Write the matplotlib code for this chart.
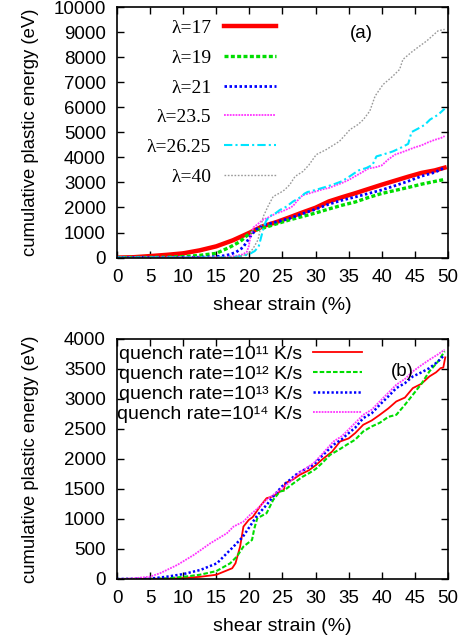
import matplotlib
matplotlib.use("Agg")
import matplotlib.pyplot as plt

plt.rcParams["font.family"] = ["Liberation Sans", "DejaVu Sans"]

# ---- panel (a): different lambda ----
lam17_x = [0, 2.5, 5, 7.5, 10, 12.5, 15, 17.5, 20, 22, 24, 26, 28, 30, 32, 34, 36, 38, 40, 42, 44, 46, 48, 49.5]
lam17_y = [0, 15, 60, 110, 170, 290, 450, 690, 990, 1250, 1410, 1600, 1800, 1990, 2240, 2410, 2570, 2740, 2910, 3070, 3230, 3380, 3480, 3590]

lam19_x = [0, 5, 7.5, 10, 12.5, 15, 17, 18.6, 20, 21, 22, 24, 26, 28, 30, 32, 34, 36, 38, 40, 42, 44, 46, 48, 49.5]
lam19_y = [0, 5, 15, 40, 90, 170, 410, 640, 960, 1100, 1170, 1340, 1500, 1640, 1780, 1940, 2090, 2220, 2400, 2560, 2680, 2800, 2930, 3040, 3120]

lam21_x = [0, 10, 12.5, 15, 16, 17, 18, 19, 19.6, 20, 21, 22, 24, 26, 28, 30, 32, 34, 36, 38, 40, 42, 44, 46, 48, 49.5]
lam21_y = [0, 5, 15, 40, 70, 120, 220, 400, 620, 800, 1120, 1290, 1420, 1560, 1750, 1930, 2130, 2290, 2420, 2560, 2700, 2870, 3050, 3250, 3400, 3590]

lam235_x = [0, 15, 17, 18, 19, 19.6, 19.9, 20.2, 20.6, 21, 22, 23, 24, 25, 26, 26.6, 27.1, 27.6, 28.1, 29, 30, 31, 32, 33,
            34, 35, 36, 37, 38, 39, 40, 41, 42, 43, 44, 45, 46, 47, 48, 49, 49.5]
lam235_y = [0, 10, 40, 70, 130, 220, 450, 900, 1200, 1280, 1500, 1620, 1760, 1850, 1970, 2060, 2230, 2370, 2500, 2560, 2640,
            2720, 2780, 2880, 2980, 3100, 3250, 3400, 3560, 3600, 3680, 3920, 4110, 4200, 4300, 4400, 4480, 4600, 4700, 4780, 4850]

lam2625_x = [0, 16, 18, 19, 20, 20.8, 21.4, 21.8, 22.2, 22.5, 23, 24, 24.6, 25.5, 26.6, 27.9, 28.3, 28.8, 29.2, 30.5, 32, 33,
             34, 35.2, 36.5, 37.7, 38.6, 39.2, 40, 41, 41.7, 43, 44, 44.5, 45.5, 46.5, 47.3, 48.5, 49.5]
lam2625_y = [0, 5, 30, 70, 140, 260, 440, 840, 1240, 1450, 1640, 1780, 1900, 2020, 2240, 2440, 2550, 2620, 2640, 2740, 2860,
             2950, 3050, 3250, 3480, 3580, 3700, 4040, 4100, 4180, 4240, 4400, 4540, 5010, 5150, 5300, 5510, 5700, 5940]

lam40_x = [0, 16, 18, 19, 20, 20.6, 21.3, 21.7, 22.1, 22.8, 23.6, 24.6, 25.3, 26.1, 26.9, 28.1, 29, 30.1, 31.6, 33.6, 34.5,
           35.2, 36.4, 37.2, 38.2, 39, 40.2, 41.5, 42.7, 43.2, 44.5, 45.5, 46.8, 48.5, 49.5]
lam40_y = [0, 5, 30, 80, 170, 380, 710, 1200, 1640, 2040, 2440, 2580, 2700, 2910, 3240, 3440, 3700, 4110, 4310, 4640, 4900,
           5110, 5310, 5500, 5850, 6450, 6910, 7200, 7510, 7910, 8200, 8400, 8650, 9050, 9110]

lam_labels = ["λ=17", "λ=19", "λ=21", "λ=23.5", "λ=26.25", "λ=40"]

# ---- panel (b): different quench rates ----
q11_x = [0, 7.5, 10, 12.5, 15, 17.4, 17.9, 18.6, 19.1, 19.9, 20.5, 21.6, 22.2, 22.6, 23.5, 24.6, 25.2, 25.4, 26.5, 27.6,
         29, 30.1, 31, 32.5, 33.7, 35, 36, 37.2, 38.5, 39.7, 41, 42.2, 43.5, 44.7, 46, 47.2, 48.2, 48.9, 49.3, 49.6]
q11_y = [0, 5, 15, 35, 70, 178, 261, 539, 872, 983, 1030, 1206, 1290, 1345, 1372, 1456, 1480, 1595, 1650, 1733, 1810, 1900,
         1990, 2120, 2289, 2340, 2430, 2567, 2640, 2733, 2840, 2956, 3020, 3178, 3250, 3372, 3440, 3511, 3520, 3690]

q12_x = [0, 5, 7.5, 10, 12.5, 15, 17.1, 18.1, 19.1, 20.4, 20.7, 20.9, 21.2, 22.6, 23.6, 24.6, 25.2, 26.5, 28, 29, 30, 31,
         32.2, 33.5, 34.7, 36, 37.2, 38.5, 39.7, 41, 42.2, 43.5, 44.7, 46, 47.2, 48.5, 49.5]
q12_y = [0, 0, 10, 35, 70, 130, 261, 372, 539, 650, 817, 900, 1011, 1095, 1317, 1456, 1470, 1580, 1700, 1760, 1830, 1930,
         2067, 2150, 2234, 2320, 2456, 2540, 2600, 2700, 2733, 2900, 3067, 3250, 3456, 3620, 3790]

q13_x = [0, 5, 7.6, 10.1, 12.6, 15.1, 17.6, 19, 20.1, 21.2, 22.6, 23.8, 24.9, 26, 27.3, 28.5, 29.7, 31, 32.7, 34, 34.7, 36,
         37.2, 38.5, 39.7, 41, 42.2, 43.5, 44.7, 46, 47.2, 48.5, 49.5]
q13_y = [0, 5, 39, 83, 150, 261, 539, 700, 880, 1060, 1233, 1400, 1539, 1640, 1760, 1830, 1900, 2050, 2234, 2330, 2400, 2520,
         2678, 2760, 2900, 3040, 3178, 3260, 3372, 3440, 3511, 3620, 3733]

q14_x = [0, 2.5, 5, 6.5, 9.1, 11.6, 14.1, 16.6, 17.6, 19.1, 20.1, 21.3, 22.6, 23.6, 24.6, 26, 27.3, 28.5, 29.7, 31, 32.7,
         34, 34.7, 36, 37.2, 38.5, 39.7, 41, 42.2, 43.5, 44.7, 46, 47.2, 48.5, 49.5]
q14_y = [0, 10, 39, 95, 233, 400, 594, 761, 872, 955, 1067, 1180, 1317, 1400, 1483, 1600, 1750, 1840, 1928, 2080, 2289, 2380,
         2456, 2600, 2733, 2820, 2956, 3100, 3234, 3330, 3456, 3560, 3650, 3740, 3817]

q_labels = ["quench rate=10¹¹ K/s", "quench rate=10¹² K/s",
            "quench rate=10¹³ K/s", "quench rate=10¹⁴ K/s"]

strain_ticks = list(range(0, 51, 5))
energy_ticks_a = list(range(0, 10001, 1000))
energy_ticks_b = list(range(0, 4001, 500))

FS_TICK = 13.5
FS_XLABEL = 14
FS_YLABEL = 13.3

fig = plt.figure(figsize=(4.7, 6.44), dpi=100)
ax1 = fig.add_axes([0.249, 0.600, 0.704, 0.389])
ax2 = fig.add_axes([0.249, 0.101, 0.704, 0.373])

styles_a = [
    dict(color="#ff0000", lw=3.2, ls="-"),
    dict(color="#00dd00", lw=2.4, ls=(0, (1.2, 0.7))),
    dict(color="#0000ff", lw=2.0, ls=(0, (0.9, 0.9))),
    dict(color="#ff33ff", lw=1.3, ls=(0, (1.0, 0.6))),
    dict(color="#00e5ff", lw=1.5, ls=(0, (4, 1.5, 1, 1.5))),
    dict(color="#999999", lw=1.0, ls=(0, (1.2, 1.2))),
]
series_a = [(lam17_x, lam17_y), (lam19_x, lam19_y), (lam21_x, lam21_y),
            (lam235_x, lam235_y), (lam2625_x, lam2625_y), (lam40_x, lam40_y)]
for (xs, ys), st, lab in zip(series_a, styles_a, lam_labels):
    ax1.plot(xs, ys, label=lab, **st)

styles_b = [
    dict(color="#ff0000", lw=1.3, ls="-"),
    dict(color="#00dd00", lw=1.5, ls=(0, (2.2, 1.0))),
    dict(color="#0000ff", lw=1.8, ls=(0, (0.9, 0.9))),
    dict(color="#ff33ff", lw=1.3, ls=(0, (1.0, 0.6))),
]
series_b = [(q11_x, q11_y), (q12_x, q12_y), (q13_x, q13_y), (q14_x, q14_y)]
for (xs, ys), st, lab in zip(series_b, styles_b, q_labels):
    ax2.plot(xs, ys, label=lab, **st)

for ax, yt in ((ax1, energy_ticks_a), (ax2, energy_ticks_b)):
    ax.set_xlim(0, 50)
    ax.set_ylim(yt[0], yt[-1])
    ax.set_xticks(strain_ticks)
    ax.set_yticks(yt)
    ax.tick_params(direction="in", top=True, right=True, length=5, width=1,
                   labelsize=FS_TICK, pad=8)
    for sp in ax.spines.values():
        sp.set_linewidth(1.2)
    ax.set_xlabel("shear strain (%)", fontsize=FS_XLABEL, labelpad=8)
    ax.set_ylabel("cumulative plastic energy (eV)", fontsize=FS_YLABEL)
    ax.yaxis.set_label_coords(-0.235, 0.5)

leg1 = ax1.legend(loc="upper right", bbox_to_anchor=(0.48, 0.95), frameon=False,
                  markerfirst=False, handlelength=2.65, handletextpad=0.67,
                  labelspacing=0.62, borderaxespad=0.0, borderpad=0.0,
                  prop={"family": "Liberation Serif", "size": 14})
ax1.text(0.737, 0.896, "(a)", transform=ax1.transAxes, fontsize=FS_TICK,
         ha="center", va="center")

leg2 = ax2.legend(loc="upper left", bbox_to_anchor=(0.0, 0.974), frameon=False,
                  markerfirst=False, handlelength=2.55, handletextpad=0.55,
                  labelspacing=0.13, borderaxespad=0.0, borderpad=0.0,
                  prop={"family": ["Liberation Sans", "DejaVu Sans"], "size": 14})
ax2.text(0.861, 0.8625, "(b)", transform=ax2.transAxes, fontsize=FS_TICK,
         ha="center", va="center")

fig.savefig("out.png", dpi=100)
